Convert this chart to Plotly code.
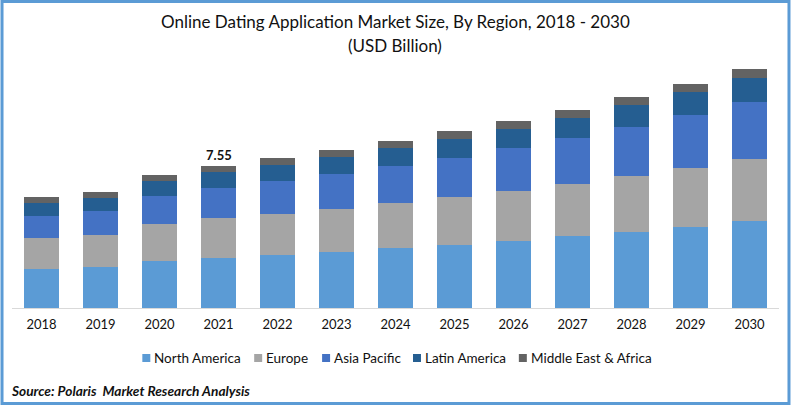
import plotly.graph_objects as go

years = ["2018","2019","2020","2021","2022","2023","2024","2025","2026","2027","2028","2029","2030"]
north_america = [2.07,2.18,2.50,2.66,2.82,2.98,3.19,3.35,3.56,3.83,4.04,4.31,4.63]
europe = [1.65,1.70,1.97,2.13,2.18,2.29,2.39,2.55,2.66,2.77,2.98,3.14,3.30]
asia_pacific = [1.17,1.28,1.49,1.60,1.76,1.86,1.97,2.07,2.29,2.45,2.61,2.82,3.03]
latin_america = [0.69,0.69,0.80,0.85,0.85,0.90,0.96,1.01,1.01,1.06,1.17,1.22,1.28]
mea = [0.32,0.32,0.32,0.31,0.37,0.37,0.37,0.43,0.43,0.43,0.43,0.43,0.48]
names = ["North America","Europe","Asia Pacific","Latin America","Middle East & Africa"]
colors = ["#5B9BD5","#A5A5A5","#4472C4","#255E91","#636363"]
series = [north_america,europe,asia_pacific,latin_america,mea]
FONT = "Lato"

fig = go.Figure()
for n,c,s in zip(names,colors,series):
    fig.add_bar(x=years,y=s,name=n,marker=dict(color=c,line_width=0),showlegend=False)

L,W = 11.5,768
fig.update_layout(
    width=791,height=405,barmode="stack",bargap=0.41,
    margin=dict(l=L,r=791-L-W,t=40,b=97),
    paper_bgcolor="white",plot_bgcolor="white",
    font=dict(family=FONT,color="#111111",size=13),
    xaxis=dict(type="category",range=[-0.5,12.5],showline=True,linecolor="#D9D9D9",linewidth=1,ticks="",showgrid=False,
               tickfont=dict(size=13),ticklabelstandoff=4),
    yaxis=dict(visible=False,range=[0,14.25]),
)
def px(x): return (x-L)/W
def py(y): return (308-y)/268
shapes=[dict(type="rect",xref="paper",yref="paper",x0=px(1.5),x1=px(789.5),y0=py(403.5),y1=py(1.5),
             line=dict(color="#5B9BD5",width=3),fillcolor="rgba(0,0,0,0)",layer="above")]
anns=[]
for n,c,x0 in zip(names,colors,[142,254,322,413,519]):
    shapes.append(dict(type="rect",xref="paper",yref="paper",x0=px(x0),x1=px(x0+8),y0=py(362),y1=py(354),
                       fillcolor=c,line_width=0))
    anns.append(dict(text=n,xref="paper",yref="paper",x=px(x0+10),y=py(358),xanchor="left",yanchor="middle",
                     showarrow=False,font=dict(size=13.5)))
anns += [
 dict(text="Online Dating Application Market Size, By Region, 2018 - 2030",xref="paper",yref="paper",x=px(395),y=py(22),
      xanchor="center",yanchor="middle",showarrow=False,font=dict(size=17)),
 dict(text="(USD Billion)",xref="paper",yref="paper",x=px(395),y=py(45),xanchor="center",yanchor="middle",showarrow=False,font=dict(size=17)),
 dict(text="<b><i>Source: Polaris  Market Research Analysis</i></b>",xref="paper",yref="paper",x=px(8),y=py(390),
      xanchor="left",yanchor="middle",showarrow=False,font=dict(size=13.7)),
 dict(text="<b>7.55</b>",x=3,y=sum(s[3] for s in series),yshift=1,xanchor="center",yanchor="bottom",showarrow=False,font=dict(size=13)),
]
fig.update_layout(shapes=shapes,annotations=anns)
fig.write_html("out.html",post_script="document.body.style.margin='0';",config={"displayModeBar":False})
